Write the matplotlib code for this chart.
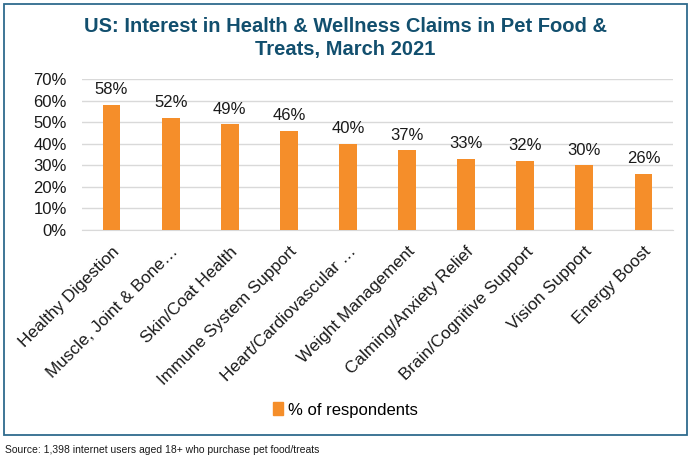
import matplotlib
matplotlib.use("Agg")
import matplotlib.pyplot as plt
from matplotlib.patches import Rectangle, Patch
from matplotlib.ticker import PercentFormatter

categories = ["Healthy Digestion", "Muscle, Joint & Bone…", "Skin/Coat Health",
              "Immune System Support", "Heart/Cardiovascular …", "Weight Management",
              "Calming/Anxiety Relief", "Brain/Cognitive Support", "Vision Support",
              "Energy Boost"]
values = [58, 52, 49, 46, 40, 37, 33, 32, 30, 26]
yticks = [0, 10, 20, 30, 40, 50, 60, 70]

plt.rcParams['font.family'] = ['Liberation Sans', 'DejaVu Sans']

fig = plt.figure(figsize=(6.9, 4.62), dpi=100)
fig.patch.set_facecolor('white')

# border box
fig.patches.append(Rectangle((4/690, 1-435/462), 683/690, 431/462, transform=fig.transFigure,
                             fill=False, edgecolor='#2F6B8E', linewidth=1.3))

ax = fig.add_axes([82/690, 1-230/462, 591/690, 151/462])
x = range(len(categories))
bar_color = '#F58E2A'
ax.bar(x, values, width=0.3, color=bar_color, zorder=3)
for xi, v in zip(x, values):
    ax.text(xi, v + 3.5, f"{v}%", ha='center', va='bottom', fontsize=12, color='#1a1a1a')

ax.set_ylim(0, 70)
ax.set_xlim(-0.5, len(categories) - 0.5)
ax.set_yticks(yticks)
ax.yaxis.set_major_formatter(PercentFormatter(decimals=0))
ax.grid(axis='y', color='#D9D9D9', linewidth=1, zorder=0)
for s in ['top', 'right', 'left']:
    ax.spines[s].set_visible(False)
ax.spines['bottom'].set_color('#D9D9D9')
ax.tick_params(axis='y', length=0, labelsize=12, pad=11, colors='#1a1a1a')
ax.tick_params(axis='x', length=0, pad=10)
ax.set_xticks(list(x))
ax.set_xticklabels(categories, rotation=45, ha='right', rotation_mode='anchor',
                   fontsize=12.3, color='#1a1a1a')

fig.text(0.5, 1-38/462, "US: Interest in Health & Wellness Claims in Pet Food &\nTreats, March 2021",
         ha='center', va='center', fontsize=14.5, fontweight='bold', color='#124F6E',
         linespacing=1.3)

fig.legend(handles=[Patch(color=bar_color, label='% of respondents')],
           loc='center', bbox_to_anchor=(0.5, 1-410/462), frameon=False, fontsize=12,
           handlelength=0.6, handleheight=0.8, handletextpad=0.3)

fig.text(5/690, 1-450/462, "Source: 1,398 internet users aged 18+ who purchase pet food/treats",
         ha='left', va='center', fontsize=7.5, color='#1a1a1a')

fig.savefig("out.png", dpi=100)
